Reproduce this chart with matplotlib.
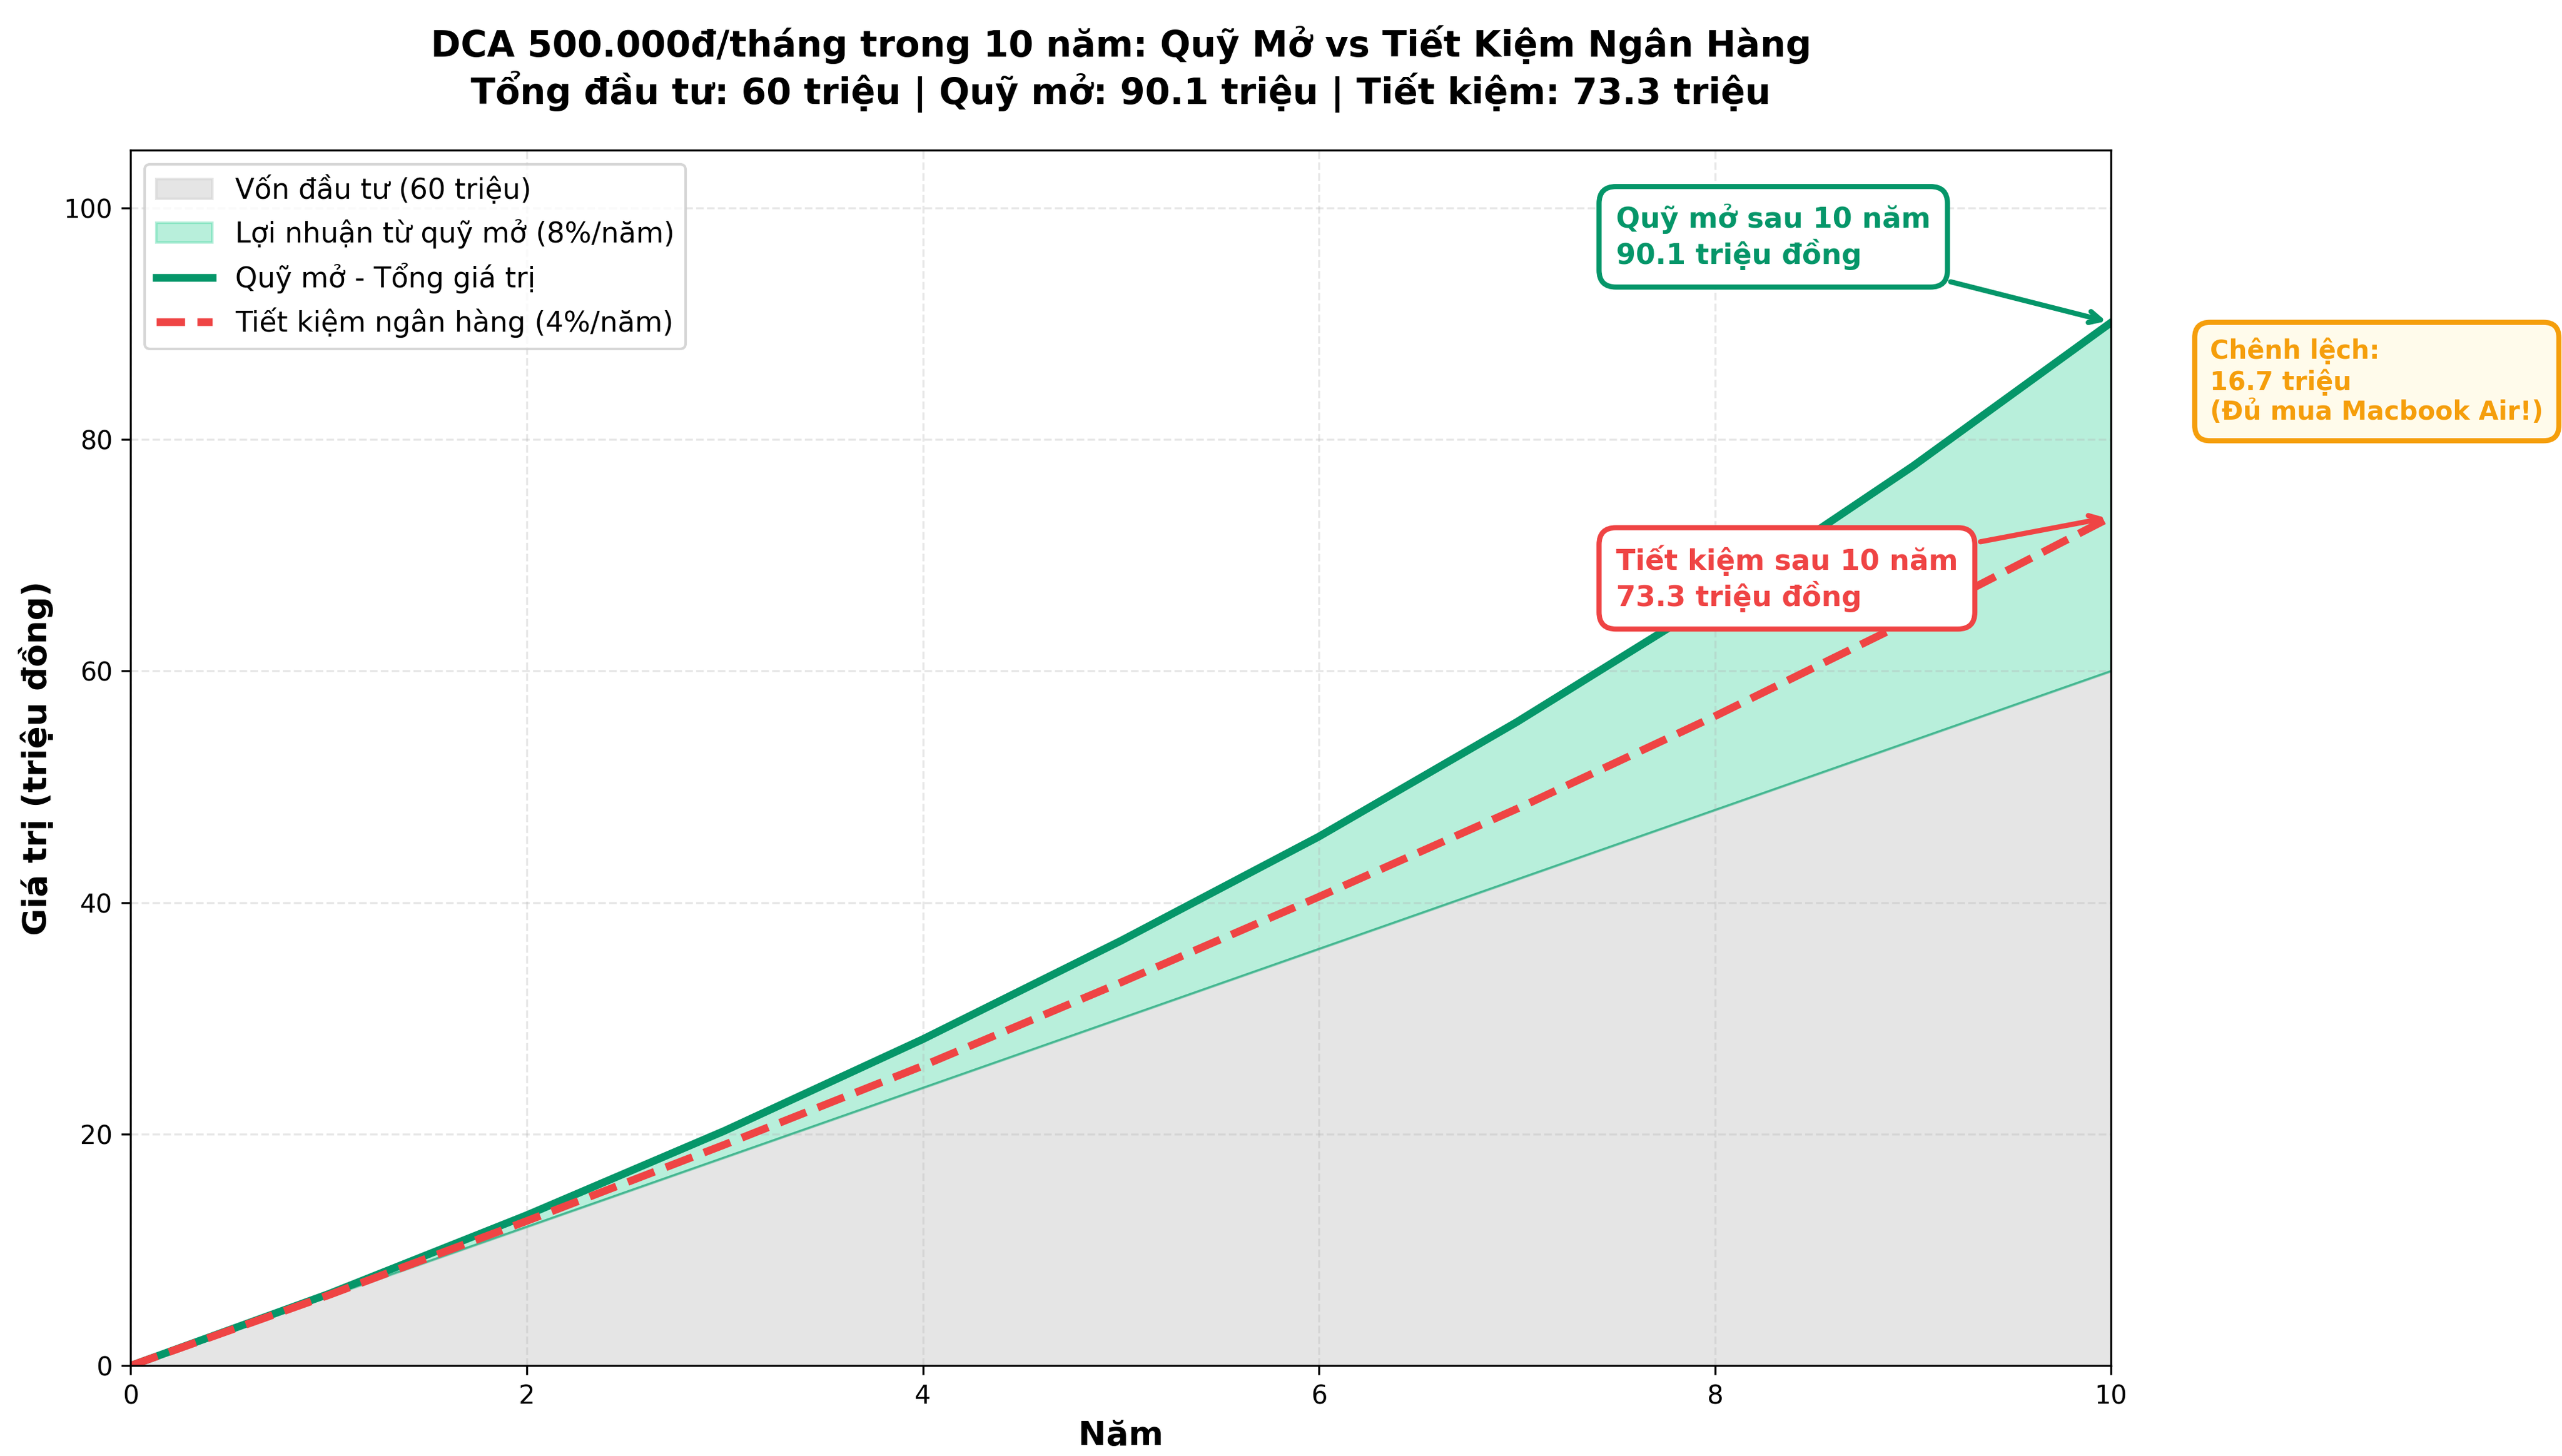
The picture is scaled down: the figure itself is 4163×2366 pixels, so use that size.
import numpy as np
import matplotlib.pyplot as plt

years = np.arange(0, 11)
von = [0, 6, 12, 18, 24, 30, 36, 42, 48, 54, 60]
quy_mo = [0, 6.2, 13.0, 20.3, 28.2, 36.7, 45.7, 55.6, 66.2, 77.7, 90.1]
tiet_kiem = [0, 6.1, 12.5, 19.1, 25.9, 33.1, 40.5, 48.1, 56.1, 64.5, 73.3]
chenh_lech = '16.7'

green = '#059669'
red = '#ef4444'
orange = '#f59e0b'

fig = plt.figure(figsize=(4163 / 300, 2366 / 300), dpi=300)
ax = fig.add_axes([0.051, 0.062, 0.773, 0.835])

ax.fill_between(years, 0, von, color='#d4d4d4', alpha=0.6, label='Vốn đầu tư (60 triệu)')
ax.fill_between(years, von, quy_mo, color='#34d399', alpha=0.35, label='Lợi nhuận từ quỹ mở (8%/năm)')
ax.plot(years, von, color=green, lw=0.8, alpha=0.5)
ax.plot(years, quy_mo, color=green, lw=3, label='Quỹ mở - Tổng giá trị')
ax.plot(years, tiet_kiem, color=red, lw=3, ls='--', label='Tiết kiệm ngân hàng (4%/năm)')

ax.set_xlim(0, 10)
ax.set_ylim(0, 105)
ax.grid(True, ls='--', alpha=0.3)
ax.tick_params(labelsize=10)
ax.set_xlabel('Năm', fontsize=13, fontweight='bold')
ax.set_ylabel('Giá trị (triệu đồng)', fontsize=13, fontweight='bold')
ax.legend(loc='upper left', fontsize=11)

ax.set_title('DCA 500.000đ/tháng trong 10 năm: Quỹ Mở vs Tiết Kiệm Ngân Hàng\n'
             'Tổng đầu tư: 60 triệu | Quỹ mở: 90.1 triệu | Tiết kiệm: 73.3 triệu',
             fontsize=14, fontweight='bold', pad=18)

ax.annotate(f'Quỹ mở sau 10 năm\n{quy_mo[-1]} triệu đồng', xy=(10, quy_mo[-1]),
            xytext=(7.5, 97.5), fontsize=11, fontweight='bold', color=green, va='center',
            bbox=dict(boxstyle='round,pad=0.6', fc='white', ec=green, lw=2),
            arrowprops=dict(arrowstyle='->', color=green, lw=2))
ax.annotate(f'Tiết kiệm sau 10 năm\n{tiet_kiem[-1]} triệu đồng', xy=(10, tiet_kiem[-1]),
            xytext=(7.5, 68), fontsize=11, fontweight='bold', color=red, va='center',
            bbox=dict(boxstyle='round,pad=0.6', fc='white', ec=red, lw=2),
            arrowprops=dict(arrowstyle='->', color=red, lw=2))
ax.text(10.5, 85, f'Chênh lệch:\n{chenh_lech} triệu\n(Đủ mua Macbook Air!)', fontsize=10,
        fontweight='bold', color=orange, va='center', clip_on=False,
        bbox=dict(boxstyle='round,pad=0.6', fc='#fffbeb', ec=orange, lw=2))

fig.savefig('out.png', dpi=300)
